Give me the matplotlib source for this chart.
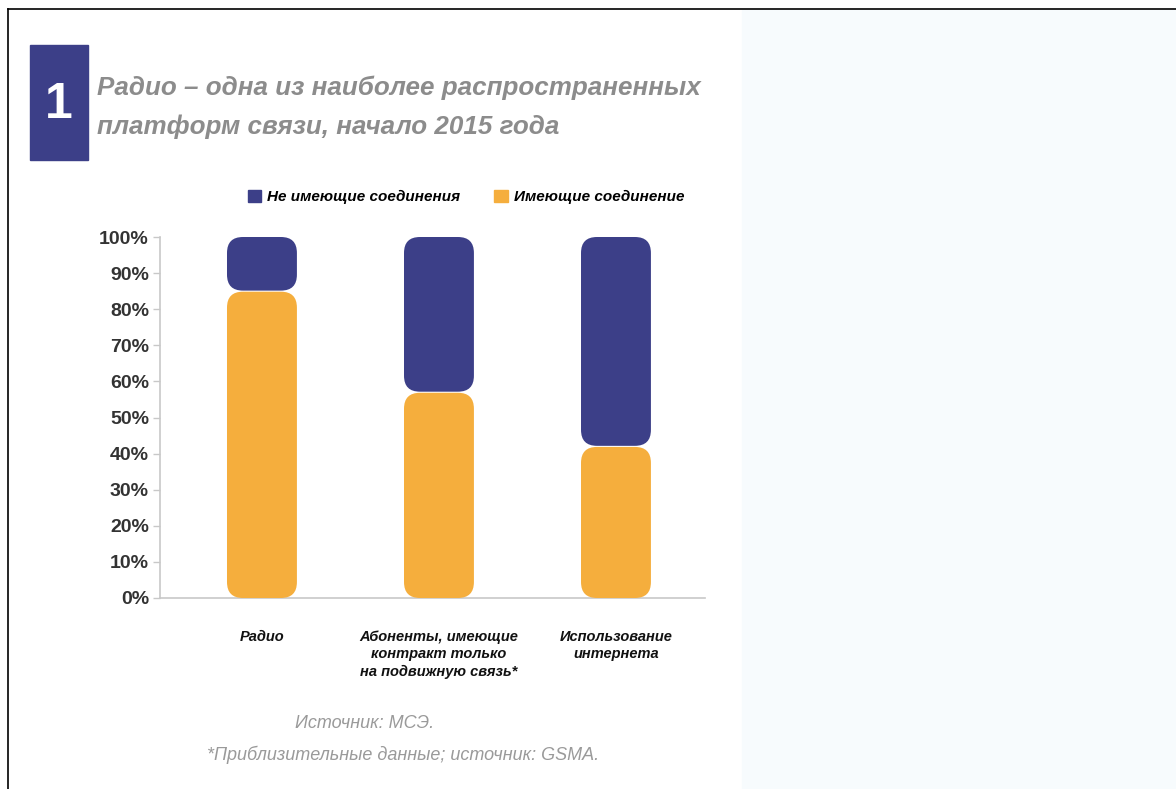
import matplotlib.pyplot as plt
from matplotlib.patches import FancyBboxPatch, Rectangle
from matplotlib.lines import Line2D

# share of population, %
categories = ['Радио',
              'Абоненты, имеющие\nконтракт только\nна подвижную связь*',
              'Использование\nинтернета']
connected = [85, 57, 42]
not_connected = [15, 43, 58]
yticks = [0, 10, 20, 30, 40, 50, 60, 70, 80, 90, 100]

series_names = ['Не имеющие соединения', 'Имеющие соединение']
blue = '#3c3f88'
orange = '#f5ae3d'

plt.rcParams['font.family'] = ['Liberation Sans', 'DejaVu Sans']

W, H = 1176, 789
fig = plt.figure(figsize=(W / 100, H / 100), dpi=100)

# page frame and shaded right panel
fig.patches.append(Rectangle((742 / W, 0), 1 - 742 / W, 1 - 10 / H, transform=fig.transFigure,
                             color='#f7fbfd', zorder=0))
fig.add_artist(Line2D([8 / W, 1], [1 - 9 / H, 1 - 9 / H], color='black', lw=1.2))
fig.add_artist(Line2D([8 / W, 8 / W], [0, 1 - 9 / H], color='black', lw=1.2))

# numbered badge and title
fig.patches.append(Rectangle((30 / W, 1 - 160 / H), 58 / W, 115 / H, transform=fig.transFigure,
                             color=blue, zorder=2))
fig.text(59 / W, 1 - 105 / H, '1', color='white', fontsize=36, fontweight='bold',
         ha='center', va='center')
fig.text(97 / W, 1 - 88 / H, 'Радио – одна из наиболее распространенных',
         color='#8c8c8c', fontsize=18.7, fontstyle='italic', fontweight='bold', va='center')
fig.text(97 / W, 1 - 127 / H, 'платформ связи, начало 2015 года',
         color='#8c8c8c', fontsize=18.7, fontstyle='italic', fontweight='bold', va='center')

ax = fig.add_axes([160 / W, 1 - 598 / H, 545 / W, 361 / H])
ax.set_xlim(-0.576, 2.503)
ax.set_ylim(0, 100)

bar_w = 0.395
aspect = (100 / 361) / (3.079 / 545)
gap = 0.15
for i in range(len(categories)):
    x0 = i - bar_w / 2
    segs = [(0, connected[i] - gap, orange),
            (connected[i] + gap, 100 - connected[i] - gap, blue)]
    for y0, h, c in segs:
        ax.add_patch(FancyBboxPatch((x0, y0), bar_w, h,
                                    boxstyle='round,pad=0,rounding_size=0.09',
                                    mutation_aspect=aspect, fc=c, ec='none', zorder=3))

for s in ['top', 'right']:
    ax.spines[s].set_visible(False)
ax.spines['left'].set_color('#c8c8c8')
ax.spines['bottom'].set_color('#c8c8c8')
ax.spines['left'].set_linewidth(1.2)
ax.spines['bottom'].set_linewidth(1.2)

ax.set_yticks(yticks)
ax.set_yticklabels([f'{v}%' for v in yticks], fontsize=14, fontweight='bold', color='#333333')
ax.tick_params(axis='y', length=5, width=1, color='#c8c8c8', pad=3)
ax.set_xticks(range(len(categories)))
ax.set_xticklabels(categories, fontsize=10.5, fontweight='bold', fontstyle='italic',
                   color='#111111', linespacing=1.3)
ax.tick_params(axis='x', length=0, pad=23)
ax.set_facecolor('none')

handles = [Rectangle((0, 0), 1, 1, color=blue), Rectangle((0, 0), 1, 1, color=orange)]
fig.legend(handles, series_names, loc='center', bbox_to_anchor=(466 / W, 1 - 197 / H),
           ncol=2, frameon=False, handlelength=0.9, handleheight=0.9, handletextpad=0.4,
           columnspacing=2.2, prop={'size': 11, 'weight': 'bold', 'style': 'italic'})

fig.text(365 / W, 1 - 724 / H, 'Источник: МСЭ.', color='#9a9a9a', fontsize=13,
         fontstyle='italic', ha='center', va='center')
fig.text(403 / W, 1 - 755 / H, '*Приблизительные данные; источник: GSMA.', color='#9a9a9a',
         fontsize=13, fontstyle='italic', ha='center', va='center')

fig.savefig('out.png', dpi=100, facecolor='white')
